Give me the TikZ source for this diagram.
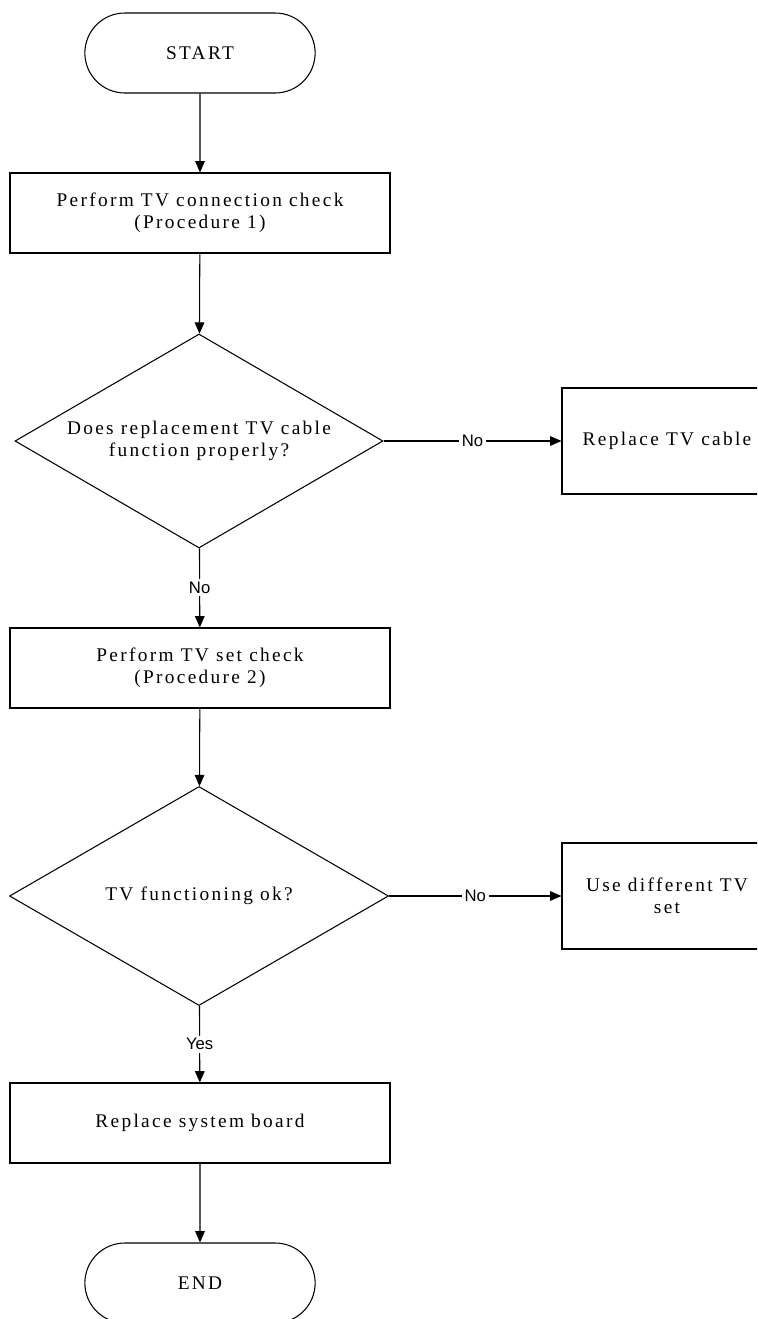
\documentclass[tikz,border=0pt]{standalone}
\usepackage{fontspec}
\setmainfont[LetterSpace=12]{Liberation Serif}
\newfontfamily\labelfont{Liberation Sans}
\usetikzlibrary{shapes.geometric,shapes.misc,arrows.meta}

\begin{document}
\begin{tikzpicture}[
	every node/.style={font=\fontsize{11}{12.5}\selectfont},
	terminal/.style={rounded rectangle,draw,line width=0.6pt,minimum width=4.84cm,minimum height=1.6cm},
	procbox/.style={rectangle,draw,line width=0.6pt,minimum width=7.6cm,minimum height=1.6cm,align=center},
	sidebox/.style={rectangle,draw,line width=0.6pt,minimum width=4.2cm,minimum height=2.12cm,align=center},
	decision/.style={diamond,draw,line width=0.6pt,inner sep=0pt,shape aspect=1.72,align=center},
	flow/.style={-{Triangle[length=6.5pt,width=5.5pt]},line width=0.6pt},
	answer/.style={fill=white,font=\labelfont\fontsize{9.5}{10}\selectfont,inner sep=1.5pt}
	]
	\useasboundingbox (0,0) rectangle (15.14,-26.38);
	\clip (0,0) rectangle (15.14,-26.38);
	\node (start) [terminal] at (4.0,-1.06) {START};
	\node (chk1) [procbox] at (4.0,-4.26) {Perform TV connection check\\(Procedure 1)};
	\node (dec1) [decision,minimum width=7.36cm,minimum height=4.28cm] at (3.98,-8.82) {Does replacement TV cable\\function properly?};
	\node (cable) [sidebox] at (13.34,-8.82) {Replace TV cable};
	\node (chk2) [procbox] at (4.0,-13.36) {Perform TV set check\\(Procedure 2)};
	\node (dec2) [decision,minimum width=7.58cm,minimum height=4.38cm] at (3.98,-17.92) {TV functioning ok?};
	\node (tvset) [sidebox] at (13.34,-17.92) {Use different TV\\set};
	\node (board) [procbox] at (4.0,-22.46) {Replace system board};
	\node (end) [terminal] at (4.0,-25.66) {END};
	\draw [flow] (start) -- (chk1);
	\draw [flow] (chk1) -- (dec1);
	\draw [flow] (dec1) -- node[answer] {No} (cable);
	\draw [flow] (dec1) -- node[answer] {No} (chk2);
	\draw [flow] (chk2) -- (dec2);
	\draw [flow] (dec2) -- node[answer] {No} (tvset);
	\draw [flow] (dec2) -- node[answer] {Yes} (board);
	\draw [flow] (board) -- (end);
\end{tikzpicture}
\end{document}
